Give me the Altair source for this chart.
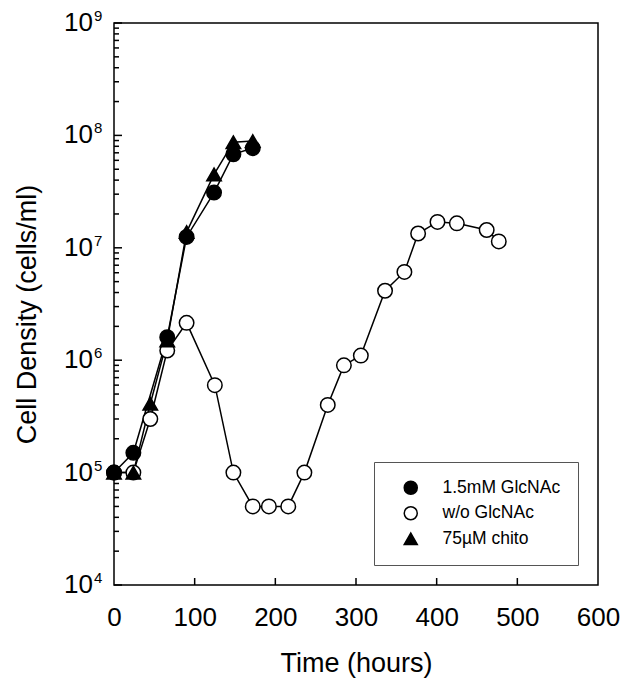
import altair as alt
import pandas as pd

FONT = "Liberation Sans"

# ---- data ----
series_order = ["1.5mM GlcNAc", "w/o GlcNAc", "75µM chito"]

t_glc = [0, 24, 66, 90, 124, 148, 172]
v_glc = [1.0e5, 1.5e5, 1.6e6, 1.25e7, 3.1e7, 6.8e7, 7.7e7]

t_wo = [0, 24, 45, 66, 90, 125, 148, 172, 192, 216, 236, 265, 285, 306,
        336, 360, 377, 401, 425, 462, 477]
v_wo = [1.0e5, 1.0e5, 3.0e5, 1.22e6, 2.15e6, 6.0e5, 1.0e5, 5.0e4, 5.0e4,
        5.0e4, 1.0e5, 4.0e5, 9.0e5, 1.1e6, 4.15e6, 6.1e6, 1.34e7, 1.7e7,
        1.65e7, 1.44e7, 1.14e7]

t_chi = [0, 24, 45, 66, 90, 124, 148, 172]
v_chi = [1.0e5, 1.0e5, 4.1e5, 1.5e6, 1.38e7, 4.5e7, 8.7e7, 8.9e7]

x_ticks = [0, 100, 200, 300, 400, 500, 600]
x_inner_ticks = [100, 200, 300, 400, 500]
y_exponents = [4, 5, 6, 7, 8, 9]
y_major = [10.0 ** k for k in y_exponents]
y_minor = [m * 10.0 ** k for k in [4, 5, 6, 7, 8] for m in range(2, 10)]

# ---- tables ----
rows = []
for name, ts, vs in [(series_order[1], t_wo, v_wo),
                     (series_order[0], t_glc, v_glc),
                     (series_order[2], t_chi, v_chi)]:
    for t, v in zip(ts, vs):
        rows.append({"x": t, "y": v, "series": name})
df = pd.DataFrame(rows)

df_major = pd.DataFrame({"y": y_major, "e": [str(k) for k in y_exponents]})
df_minor = pd.DataFrame({"y": y_minor})
df_xt = pd.DataFrame({"x": x_inner_ticks})

W, H = 484, 562
xs = alt.Scale(domain=[0, 600], nice=False)
ys = alt.Scale(type="log", domain=[1e4, 1e9], nice=False)

x_axis = alt.Axis(values=x_ticks, ticks=False, tickSize=0, domain=False, grid=False,
                  labelFontSize=26, labelPadding=19, labelFont=FONT, labelColor="black",
                  labelFlush=False, labelOverlap=False, labelBound=False,
                  title="Time (hours)", titleFontSize=27, titleFont=FONT,
                  titleFontWeight="normal", titleColor="black", titlePadding=20)
y_axis = alt.Axis(labels=False, ticks=False, domain=False, grid=False,
                  title="Cell Density (cells/ml)", titleFontSize=27, titleFont=FONT,
                  titleFontWeight="normal", titleColor="black",
                  titleX=-79, titleY=291, titleBaseline="alphabetic", titleAngle=270)

X = alt.X("x:Q", scale=xs, axis=x_axis, title="Time (hours)")
Y = alt.Y("y:Q", scale=ys, axis=y_axis, title="Cell Density (cells/ml)")

lines = alt.Chart(df).mark_line(color="black", strokeWidth=1.5).encode(
    x=X, y=Y, detail="series:N",
)

legend = alt.Legend(title=None, orient="none", legendX=260, legendY=439,
                    padding=17, symbolOffset=11, labelFontSize=17.5, labelFont=FONT,
                    labelColor="black", symbolSize=170, symbolStrokeColor="black",
                    symbolStrokeWidth=1.5, strokeColor="#555555", fillColor="white",
                    rowPadding=5.5, labelOffset=23)

points = alt.Chart(df).mark_point(filled=True, size=210, strokeWidth=1.5, opacity=1).encode(
    x=X, y=Y,
    shape=alt.Shape("series:N", sort=series_order,
                    scale=alt.Scale(domain=series_order,
                                    range=["circle", "circle", "triangle-up"]),
                    legend=legend),
    fill=alt.Fill("series:N", sort=series_order,
                  scale=alt.Scale(domain=series_order,
                                  range=["black", "white", "black"]),
                  legend=legend),
    stroke=alt.Stroke("series:N", sort=series_order,
                      scale=alt.Scale(domain=series_order,
                                      range=["black", "black", "black"]),
                      legend=legend),
)

major_ticks = alt.Chart(df_major).mark_rule(color="black", strokeWidth=1.5).encode(
    y=Y, x=alt.value(0), x2=alt.value(8))
minor_ticks = alt.Chart(df_minor).mark_rule(color="black", strokeWidth=1.5).encode(
    y=Y, x=alt.value(0), x2=alt.value(5))
x_tick_marks = alt.Chart(df_xt).mark_rule(color="black", strokeWidth=1.5).encode(
    x=X, y=alt.value(H), y2=alt.value(H - 7))

ten = alt.Chart(df_major).mark_text(font=FONT, fontSize=26, align="right",
                                    baseline="middle", color="black").encode(
    y=Y, x=alt.value(-21), text=alt.value("10"))
exp = alt.Chart(df_major).mark_text(font=FONT, fontSize=15, align="left",
                                    baseline="middle", color="black", dy=-7).encode(
    y=Y, x=alt.value(-20), text="e:N")

chart = alt.layer(lines, major_ticks, minor_ticks, x_tick_marks, points, ten, exp).properties(
    width=W, height=H,
    autosize=alt.AutoSizeParams(type="none"),
    padding={"left": 114, "top": 23, "right": 34, "bottom": 95},
).configure(background="white").configure_view(stroke="black", strokeWidth=1.5)

chart.save("out.html", embed_options={"renderer": "svg", "actions": False})
